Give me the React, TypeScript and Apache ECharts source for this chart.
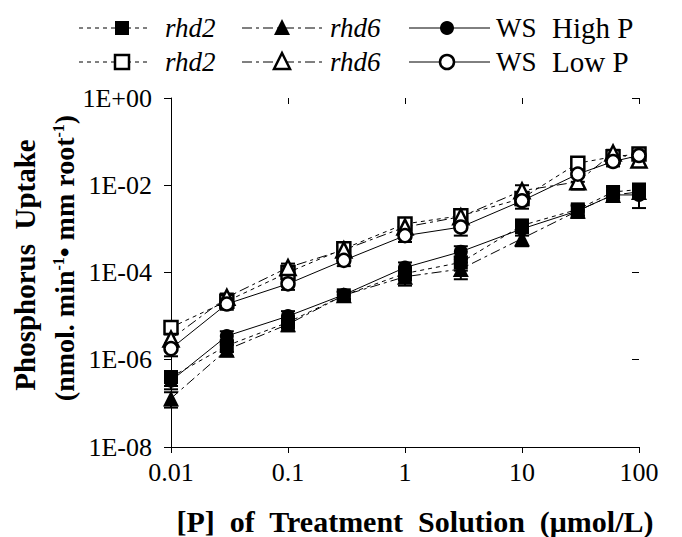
import React, { useEffect, useRef } from "react";
import * as echarts from "echarts";

// [P] of treatment solution (µmol/L)
const conc = [0.01, 0.03, 0.1, 0.3, 1, 3, 10, 30, 60, 100];

// High P (filled symbols)
const rhd2High = [4.0e-7, 2.1e-6, 7.2e-6, 3.0e-5, 9.5e-5, 1.7e-4, 1.2e-3, 2.8e-3, 7.0e-3, 8.0e-3];
const rhd6High = [1.3e-7, 1.7e-6, 6.5e-6, 3.0e-5, 8.0e-5, 1.2e-4, 6.0e-4, 2.6e-3, 6.0e-3, 7.0e-3];
const wsHigh = [3.3e-7, 3.5e-6, 1.0e-5, 3.1e-5, 1.3e-4, 3.0e-4, 1.0e-3, 2.6e-3, 6.0e-3, 6.0e-3];
// Low P (open symbols)
const rhd2Low = [5.5e-6, 2.2e-5, 1.0e-4, 3.5e-4, 1.3e-3, 2.0e-3, 5.0e-3, 3.2e-2, 4.5e-2, 5.2e-2];
const rhd6Low = [3.0e-6, 2.7e-5, 1.3e-4, 3.3e-4, 1.1e-3, 1.9e-3, 7.5e-3, 1.2e-2, 5.5e-2, 3.8e-2];
const wsLow = [1.8e-6, 1.9e-5, 5.5e-5, 1.9e-4, 7.0e-4, 1.1e-3, 4.4e-3, 1.8e-2, 3.5e-2, 4.8e-2];

// standard errors
const rhd2HighSe = [1.5e-7, 6e-7, 2e-6, 6e-6, 3e-5, 6e-5, 4e-4, 8e-4, 2e-3, 2.5e-3];
const rhd6HighSe = [5e-8, 5e-7, 2e-6, 6e-6, 3e-5, 5e-5, 2e-4, 8e-4, 1.5e-3, 2e-3];
const wsHighSe = [1.2e-7, 1e-6, 3e-6, 6e-6, 4e-5, 1e-4, 3e-4, 8e-4, 1.5e-3, 3e-3];
const rhd2LowSe = [1.5e-6, 5e-6, 2e-5, 6e-5, 3e-4, 5e-4, 1.5e-3, 8e-3, 1e-2, 1e-2];
const rhd6LowSe = [8e-7, 6e-6, 3e-5, 8e-5, 3e-4, 5e-4, 2.5e-3, 4e-3, 1e-2, 1e-2];
const wsLowSe = [6e-7, 5e-6, 1.5e-5, 5e-5, 2e-4, 4e-4, 1.5e-3, 6e-3, 8e-3, 1e-2];

const genotypes = ["rhd2", "rhd6", "WS"];
const treatments = ["High P", "Low P"];

const FONT = "Liberation Serif";

const DASH_RHD2 = [4, 4];
const DASH_RHD6 = [10, 4, 3, 4];

export default function App() {
  const ref = useRef<HTMLDivElement>(null);

  useEffect(() => {
    document.body.style.margin = "0";
    const chart = echarts.init(ref.current!, null, { renderer: "svg" });

    const defs = [
      { name: "rhd2 Low P", v: rhd2Low, se: rhd2LowSe, symbol: "rect", size: 13, filled: false, dash: DASH_RHD2 },
      { name: "rhd6 Low P", v: rhd6Low, se: rhd6LowSe, symbol: "triangle", size: 15, filled: false, dash: DASH_RHD6 },
      { name: "WS Low P", v: wsLow, se: wsLowSe, symbol: "circle", size: 13, filled: false, dash: "solid" },
      { name: "rhd2 High P", v: rhd2High, se: rhd2HighSe, symbol: "rect", size: 14, filled: true, dash: DASH_RHD2 },
      { name: "rhd6 High P", v: rhd6High, se: rhd6HighSe, symbol: "triangle", size: 16, filled: true, dash: DASH_RHD6 },
      { name: "WS High P", v: wsHigh, se: wsHighSe, symbol: "circle", size: 14, filled: true, dash: "solid" },
    ];

    const series: any[] = [];
    defs.forEach((d) => {
      series.push({
        name: d.name + " SE",
        type: "custom",
        xAxisIndex: 0,
        yAxisIndex: 0,
        data: conc.map((x, i) => [x, d.v[i], d.se[i]]),
        renderItem: (params: any, api: any) => {
          const x = api.value(0);
          const v = api.value(1);
          const e = api.value(2);
          const hi = api.coord([x, v + e]);
          const lo = api.coord([x, Math.max(v - e, v * 0.05)]);
          const w = 7;
          const st = { stroke: "#000", lineWidth: 2 };
          return {
            type: "group",
            children: [
              { type: "line", shape: { x1: hi[0], y1: hi[1], x2: lo[0], y2: lo[1] }, style: st },
              { type: "line", shape: { x1: hi[0] - w, y1: hi[1], x2: hi[0] + w, y2: hi[1] }, style: st },
              { type: "line", shape: { x1: lo[0] - w, y1: lo[1], x2: lo[0] + w, y2: lo[1] }, style: st },
            ],
          };
        },
        z: 2,
      });
      series.push({
        name: d.name,
        type: "line",
        xAxisIndex: 0,
        yAxisIndex: 0,
        data: conc.map((x, i) => [x, d.v[i]]),
        symbol: d.symbol,
        symbolSize: d.size,
        showSymbol: true,
        itemStyle: d.filled
          ? { color: "#000", borderColor: "#000", borderWidth: 0 }
          : { color: "#fff", borderColor: "#000", borderWidth: 2.5 },
        lineStyle: { color: "#000", width: 1, type: d.dash },
        z: 3,
      });
    });

    const yFmt = (v: number) => {
      const e = Math.round(Math.log10(v));
      return "1E" + (e >= 0 ? "+" : "-") + String(Math.abs(e)).padStart(2, "0");
    };
    const xFmt = (v: number) => {
      const e = Math.round(Math.log10(v));
      return e < 0 ? Math.pow(10, e).toFixed(-e) : String(Math.pow(10, e));
    };

    const txt = (x: number, y: number, text: string, extra: any = {}) => ({
      type: "text",
      x,
      y,
      style: { text, fontFamily: FONT, fontSize: 27, fill: "#000", verticalAlign: "middle", ...extra },
    });

    // legend built from graphic elements
    const legend: any[] = [];
    const rows = [
      { y: 28, filled: true, label: treatments[0] },
      { y: 62, filled: false, label: treatments[1] },
    ];
    rows.forEach((r) => {
      const fill = r.filled ? "#000" : "#fff";
      const sw = r.filled ? 0 : 2.5;
      legend.push({ type: "line", shape: { x1: 79, y1: r.y, x2: 150, y2: r.y }, style: { stroke: "#000", lineWidth: 1, lineDash: DASH_RHD2 } });
      legend.push({ type: "rect", shape: { x: 115, y: r.y - 7, width: 14, height: 14 }, style: { fill, stroke: "#000", lineWidth: sw } });
      legend.push(txt(165, r.y, genotypes[0], { fontStyle: "italic" }));
      legend.push({ type: "line", shape: { x1: 242, y1: r.y, x2: 322, y2: r.y }, style: { stroke: "#000", lineWidth: 1, lineDash: DASH_RHD6 } });
      legend.push({ type: "polygon", shape: { points: [[282, r.y - 9], [290, r.y + 7], [274, r.y + 7]] }, style: { fill, stroke: "#000", lineWidth: sw } });
      legend.push(txt(330, r.y, genotypes[1], { fontStyle: "italic" }));
      legend.push({ type: "line", shape: { x1: 409, y1: r.y, x2: 490, y2: r.y }, style: { stroke: "#000", lineWidth: 1 } });
      legend.push({ type: "circle", shape: { cx: 447, cy: r.y, r: 7 }, style: { fill, stroke: "#000", lineWidth: sw } });
      legend.push(txt(496, r.y, genotypes[2]));
      legend.push(txt(552, r.y, r.label, { fontSize: 29 }));
    });

    const titles = [
      {
        type: "text",
        x: 25,
        y: 265,
        rotation: Math.PI / 2,
        style: { text: "Phosphorus  Uptake", fontFamily: FONT, fontWeight: "bold", fontSize: 29, fill: "#000", align: "center", verticalAlign: "middle" },
      },
      {
        type: "text",
        x: 64,
        y: 258,
        rotation: Math.PI / 2,
        style: {
          text: "{a|(nmol. min}{s|-1}{a|• mm root}{s|-1}{a|)}",
          align: "center",
          verticalAlign: "middle",
          rich: {
            a: { fontFamily: FONT, fontWeight: "bold", fontSize: 28, color: "#000" },
            s: { fontFamily: FONT, fontWeight: "bold", fontSize: 16, color: "#000", verticalAlign: "top", padding: [0, 0, 12, 0] },
          },
        },
      },
      {
        type: "text",
        x: 415,
        y: 521,
        style: { text: "[P]  of  Treatment  Solution  (μmol/L)", fontFamily: FONT, fontWeight: "bold", fontSize: 30, fill: "#000", align: "center", verticalAlign: "middle" },
      },
    ];

    const baseX = { type: "log", logBase: 10, min: 0.01, max: 100, gridIndex: 0 };
    const baseY = { type: "log", logBase: 10, min: 1e-8, max: 1, interval: 2, gridIndex: 0 };

    chart.setOption({
      animation: false,
      backgroundColor: "#fff",
      grid: { left: 171, right: 43, top: 98, bottom: 90 },
      xAxis: [
        {
          ...baseX,
          axisLine: { lineStyle: { color: "#000", width: 1 } },
          axisTick: { show: true, length: 6, lineStyle: { color: "#000" } },
          axisLabel: { formatter: xFmt, fontFamily: FONT, fontSize: 26, color: "#000", margin: 12 },
          splitLine: { show: false },
        },
        {
          ...baseX,
          axisLine: { show: false },
          axisTick: { show: true, inside: true, length: 6, lineStyle: { color: "#000" } },
          axisLabel: { show: false },
          splitLine: { show: false },
        },
      ],
      yAxis: [
        {
          ...baseY,
          axisLine: { show: true, lineStyle: { color: "#000", width: 1 } },
          axisTick: { show: true, length: 7, lineStyle: { color: "#000" } },
          axisLabel: { formatter: yFmt, fontFamily: FONT, fontSize: 26, color: "#000", margin: 19 },
          splitLine: { show: false },
        },
        {
          ...baseY,
          axisLine: { show: false },
          axisTick: { show: true, inside: true, length: 7, lineStyle: { color: "#000" } },
          axisLabel: { show: false },
          splitLine: { show: false },
        },
      ],
      graphic: [...legend, ...titles],
      series,
    });

    return () => chart.dispose();
  }, []);

  return <div ref={ref} style={{ width: 682, height: 537 }} />;
}
